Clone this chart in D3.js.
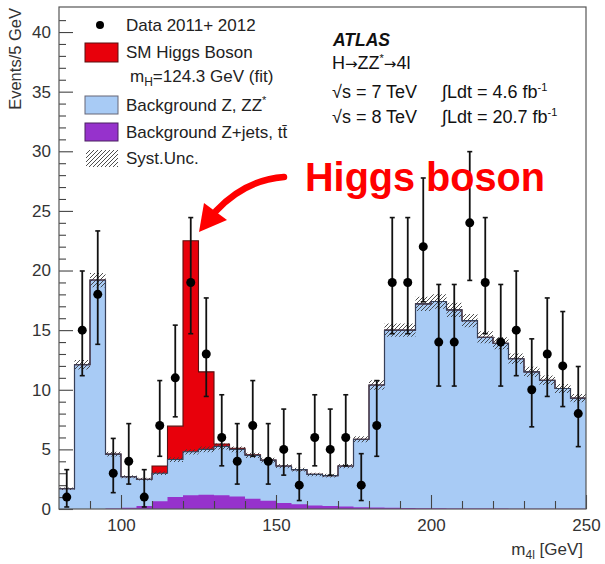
<!DOCTYPE html>
<html><head><meta charset="utf-8">
<script src="https://cdn.jsdelivr.net/npm/d3@7"></script>
<style>
body{margin:0;background:#fff}
svg{display:block;font-family:"Liberation Sans",Arial,Helvetica,sans-serif}
</style>
</head><body>
<svg id="chart" width="605" height="564"></svg>
<script>
// ---- data ----
const binLow = [80,85,90,95,100,105,110,115,120,125,130,135,140,145,150,155,160,165,170,175,180,185,190,195,200,205,210,215,220,225,230,235,240,245];
const binWidth = 5;
const zjets = [0,0,0,0.05,0.1,0.25,0.65,1.0,1.15,1.2,1.15,1.05,0.85,0.7,0.5,0.4,0.3,0.25,0.2,0.15,0.12,0.1,0.08,0.07,0.06,0.05,0.05,0.04,0.04,0.03,0.03,0.03,0.02,0.02];
const zz = [1.7,12.1,19.2,4.55,2.6,2.25,2.35,3.15,3.65,3.8,4.1,3.95,3.65,3.4,3.1,2.9,2.6,2.55,3.4,5.7,10.28,14.9,14.92,17.13,17.34,16.65,15.75,14.36,13.86,12.57,11.47,10.77,10.08,9.28];
const higgs = [0,0,0,0,0,0,0.6,2.8,17.7,6.5,0.2,0.1,0.05,0,0,0,0,0,0,0,0,0,0,0,0,0,0,0,0,0,0,0,0,0];
const systUnc = [0.1,0.4,0.6,0.2,0.12,0.12,0.15,0.2,0.22,0.25,0.25,0.25,0.22,0.2,0.18,0.16,0.15,0.15,0.18,0.25,0.4,0.55,0.55,0.6,0.6,0.6,0.55,0.5,0.5,0.45,0.42,0.4,0.38,0.35];
const dataCounts = [1,15,18,3,4,1,7,11,19,13,6,4,7,4,5,2,6,5,6,2,7,19,19,22,14,14,24,19,14,15,10,13,12,8];
const dataErrLo = [0.83,3.82,4.19,1.63,1.91,0.83,2.58,3.27,4.30,3.56,2.38,1.91,2.58,1.91,2.16,1.29,2.38,2.16,2.38,1.29,2.58,4.30,4.30,4.62,3.69,3.69,4.83,4.30,3.69,3.82,3.11,3.56,3.41,2.77];
const dataErrHi = [2.30,4.96,5.32,2.92,3.16,2.30,3.77,4.42,5.44,4.70,3.58,3.16,3.77,3.16,3.38,2.64,3.58,3.38,3.58,2.64,3.77,5.44,5.44,5.76,4.83,4.83,5.97,5.44,4.83,4.96,4.27,4.70,4.56,3.95];
const xTicks = [100,150,200,250];
const xMinorTicks = [90,110,120,130,140,160,170,180,190,210,220,230,240];
const yTicks = [0,5,10,15,20,25,30,35,40];
const xDomain = [80,250];
const yDomain = [0,42.1];

// ---- setup ----
const svg = d3.select("#chart");
const L = 59, R = 586, T = 7, B = 509;
const x = d3.scaleLinear().domain(xDomain).range([L, R]);
const y = d3.scaleLinear().domain(yDomain).range([B, T]);

const colZjets = "#9632cc", colZZ = "#a8cbf5", colHiggs = "#e8000b";

const defs = svg.append("defs");
const pat = defs.append("pattern").attr("id","hatch").attr("patternUnits","userSpaceOnUse")
  .attr("width",4).attr("height",4);
pat.append("path").attr("d","M-1,1 l2,-2 M0,4 l4,-4 M3,5 l2,-2")
  .attr("stroke","#3a3a3a").attr("stroke-width",0.9);
defs.append("clipPath").attr("id","plotclip").append("rect")
  .attr("x",L).attr("y",T).attr("width",R-L).attr("height",B-T);

const rows = binLow.map((b,i)=>({lo:b, zjets:zjets[i], zz:zz[i], higgs:higgs[i]}));
const stacked = d3.stack().keys(["zjets","zz","higgs"])(rows);

function stepPts(layer){
  const pts = [];
  layer.forEach(d=>{
    pts.push({x:d.data.lo, y0:d[0], y1:d[1]});
    pts.push({x:d.data.lo+binWidth, y0:d[0], y1:d[1]});
  });
  return pts;
}
const area = d3.area().x(p=>x(p.x)).y0(p=>y(p.y0)).y1(p=>y(p.y1));
const line = d3.line().x(p=>x(p.x)).y(p=>y(p.y1));

const g = svg.append("g").attr("clip-path","url(#plotclip)");
g.append("path").attr("d", area(stepPts(stacked[1]).map(p=>({x:p.x,y0:0,y1:p.y1})))).attr("fill",colZZ);
g.append("path").attr("d", area(stepPts(stacked[0]))).attr("fill",colZjets);
g.append("path").attr("d", area(stepPts(stacked[2]))).attr("fill",colHiggs);

const bandPts = [];
binLow.forEach((b,i)=>{
  const tot = zjets[i]+zz[i];
  bandPts.push({x:b, y0:tot-systUnc[i], y1:tot+systUnc[i]});
  bandPts.push({x:b+binWidth, y0:tot-systUnc[i], y1:tot+systUnc[i]});
});
g.append("path").attr("d", area(bandPts)).attr("fill","url(#hatch)");

g.append("path").attr("d", line(stepPts(stacked[2]))).attr("fill","none").attr("stroke","#5a1010").attr("stroke-width",1.1);
g.append("path").attr("d", line(stepPts(stacked[1]))).attr("fill","none").attr("stroke","#34405a").attr("stroke-width",1.1);

// ---- axes ----
const axisCol = "#444";
const yAx = svg.append("g").attr("transform",`translate(${L},0)`)
  .call(d3.axisLeft(y).tickValues(yTicks).tickSizeInner(-14).tickSizeOuter(0).tickPadding(8));
const yMin = svg.append("g").attr("transform",`translate(${L},0)`)
  .call(d3.axisLeft(y).tickValues(d3.range(0,42,1).filter(v=>v%5!==0)).tickSizeInner(-7).tickSizeOuter(0).tickFormat(""));
const xAx = svg.append("g").attr("transform",`translate(0,${B})`)
  .call(d3.axisBottom(x).tickValues(xTicks).tickSizeInner(-14).tickSizeOuter(0).tickPadding(10));
const xMin = svg.append("g").attr("transform",`translate(0,${B})`)
  .call(d3.axisBottom(x).tickValues(xMinorTicks).tickSizeInner(-8).tickSizeOuter(0).tickFormat(""));
[yAx,yMin,xAx,xMin].forEach(a=>{
  a.select(".domain").remove();
  a.selectAll(".tick line").attr("stroke",axisCol).attr("stroke-width",1.1);
  a.selectAll(".tick text").attr("fill","#333").attr("font-size",17)
   .attr("font-family",'"Liberation Sans",Arial,sans-serif');
});

svg.append("rect").attr("x",L).attr("y",T).attr("width",R-L).attr("height",B-T)
  .attr("fill","none").attr("stroke","#555").attr("stroke-width",1.2);

// ---- data points ----
const dg = svg.append("g");
binLow.forEach((b,i)=>{
  const cx = x(b+binWidth/2), n = dataCounts[i];
  const yt = y(n+dataErrHi[i]), yb = y(Math.max(0,n-dataErrLo[i]));
  dg.append("line").attr("x1",cx).attr("x2",cx).attr("y1",yt).attr("y2",yb).attr("stroke","#111").attr("stroke-width",1.8);
  dg.append("line").attr("x1",cx-2.5).attr("x2",cx+2.5).attr("y1",yt).attr("y2",yt).attr("stroke","#111").attr("stroke-width",1.6);
  dg.append("line").attr("x1",cx-2.5).attr("x2",cx+2.5).attr("y1",yb).attr("y2",yb).attr("stroke","#111").attr("stroke-width",1.6);
  dg.append("circle").attr("cx",cx).attr("cy",y(n)).attr("r",4.5).attr("fill","#000");
});

// ---- axis titles ----
svg.append("text").attr("transform","translate(21,8) rotate(-90)").attr("text-anchor","end")
  .attr("font-size",16.5).attr("fill","#333").text("Events/5 GeV");
const xt = svg.append("text").attr("x",583).attr("y",555).attr("text-anchor","end").attr("font-size",17).attr("fill","#333");
xt.append("tspan").text("m");
xt.append("tspan").attr("dy",4).attr("font-size",12).text("4l");
xt.append("tspan").attr("dy",-4).text(" [GeV]");

// ---- legend ----
const lg = svg.append("g").attr("font-size",17).attr("fill","#222");
lg.append("circle").attr("cx",100).attr("cy",25).attr("r",4).attr("fill","#000");
lg.append("text").attr("x",126).attr("y",31).text("Data 2011+ 2012");
lg.append("rect").attr("x",85).attr("y",43).attr("width",33).attr("height",19).attr("fill",colHiggs).attr("stroke","#5a1010").attr("stroke-width",1);
lg.append("text").attr("x",126).attr("y",58).text("SM Higgs Boson");
const mh = lg.append("text").attr("x",130).attr("y",82);
mh.append("tspan").text("m");
mh.append("tspan").attr("dy",4).attr("font-size",12).text("H");
mh.append("tspan").attr("dy",-4).text("=124.3 GeV (fit)");
lg.append("rect").attr("x",85).attr("y",96).attr("width",33).attr("height",18).attr("fill",colZZ).attr("stroke","#667").attr("stroke-width",1);
const bz = lg.append("text").attr("x",126).attr("y",111);
bz.append("tspan").text("Background Z, ZZ");
bz.append("tspan").attr("dy",-7).attr("font-size",11).text("*");
lg.append("rect").attr("x",85).attr("y",123).attr("width",33).attr("height",18).attr("fill",colZjets).attr("stroke","#4a2060").attr("stroke-width",1);
lg.append("text").attr("x",126).attr("y",138).text("Background Z+jets, t\u0074\u0304");
lg.append("rect").attr("x",86).attr("y",150).attr("width",32).attr("height",17).attr("fill","url(#hatch)");
lg.append("text").attr("x",126).attr("y",164).text("Syst.Unc.");

// ---- ATLAS label ----
const ag = svg.append("g").attr("fill","#111").attr("font-size",18);
ag.append("text").attr("x",333).attr("y",46).attr("font-weight","bold").attr("font-style","italic").attr("font-size",17.5).text("ATLAS");
const hz = ag.append("text").attr("x",332).attr("y",69);
hz.append("tspan").text("H");
hz.append("tspan").attr("font-family","DejaVu Sans").attr("font-size",15).text("\u2192");
hz.append("tspan").text("ZZ");
hz.append("tspan").attr("dy",-7).attr("font-size",11).text("*");
hz.append("tspan").attr("dy",7).attr("font-family","DejaVu Sans").attr("font-size",15).text("\u2192");
hz.append("tspan").text("4l");
ag.append("text").attr("x",332).attr("y",98).text("\u221As = 7 TeV");
const l1 = ag.append("text").attr("x",442).attr("y",98);
l1.append("tspan").text("\u222BLdt = 4.6 fb");
l1.append("tspan").attr("dy",-7).attr("font-size",11).text("-1");
ag.append("text").attr("x",332).attr("y",123).text("\u221As = 8 TeV");
const l2 = ag.append("text").attr("x",442).attr("y",123);
l2.append("tspan").text("\u222BLdt = 20.7 fb");
l2.append("tspan").attr("dy",-7).attr("font-size",11).text("-1");

// ---- annotation ----
svg.append("path").attr("d","M284,177 Q245,180 216,211").attr("fill","none")
  .attr("stroke","#ff0000").attr("stroke-width",6.5).attr("stroke-linecap","round");
svg.append("path").attr("d","M199,232 L204,203 L227,220 Z").attr("fill","#ff0000");
svg.append("text").attr("x",305).attr("y",191).attr("font-size",40).attr("font-weight","bold")
  .attr("fill","#ff0000").attr("textLength",240).attr("lengthAdjust","spacingAndGlyphs").text("Higgs boson");
</script>
</body></html>
